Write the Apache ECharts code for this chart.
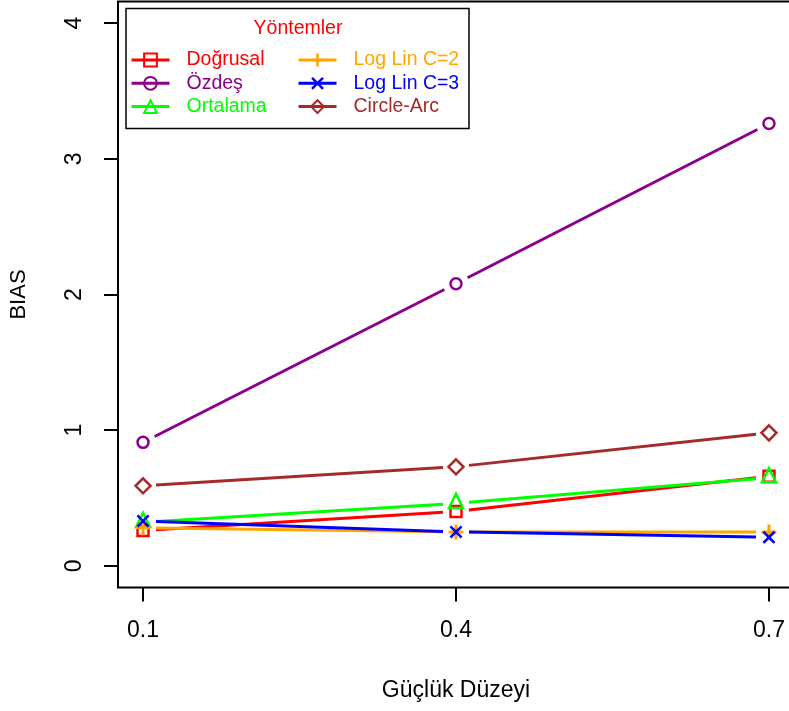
<!DOCTYPE html>
<html>
<head>
<meta charset="utf-8">
<script src="https://cdn.jsdelivr.net/npm/echarts@6/dist/echarts.min.js"></script>
<style>
  html, body { margin: 0; padding: 0; background: #fff; }
  #chart { width: 789px; height: 711px; }
</style>
</head>
<body>
<div id="chart"></div>
<script>
// Difficulty levels on the x axis
const levels = [0.1, 0.4, 0.7];
const xTickLabels = ['0.1', '0.4', '0.7'];
const yTicks = [0, 1, 2, 3, 4];

// BIAS values per method
const dogrusal = [0.26, 0.40, 0.66];
const ozdes = [0.91, 2.08, 3.26];
const ortalama = [0.32, 0.46, 0.65];
const logLinC2 = [0.28, 0.25, 0.25];
const logLinC3 = [0.33, 0.25, 0.21];
const circleArc = [0.59, 0.73, 0.98];

const methodNames = ['Doğrusal', 'Özdeş', 'Ortalama', 'Log Lin C=2', 'Log Lin C=3', 'Circle-Arc'];
const methodValues = [dogrusal, ozdes, ortalama, logLinC2, logLinC3, circleArc];
const methodColors = ['#FF0000', '#8B008B', '#00FF00', '#FFA500', '#0000FF', '#A52A2A'];

const PLUS = 'path://M4,0H6V4H10V6H6V10H4V6H0V4H4Z';
const CROSS = 'path://M1.4,0L5,3.6L8.6,0L10,1.4L6.4,5L10,8.6L8.6,10L5,6.4L1.4,10L0,8.6L3.6,5L0,1.4Z';
const symbolDefs = [
  { symbol: 'rect', size: 11, hollow: true, offset: [0, 0] },
  { symbol: 'circle', size: 11, hollow: true, offset: [0, 0] },
  { symbol: 'triangle', size: 14, hollow: true, offset: [0, -2.5] },
  { symbol: PLUS, size: 15, hollow: false, offset: [0, 0] },
  { symbol: CROSS, size: 13, hollow: false, offset: [0, 0] },
  { symbol: 'diamond', size: 15, hollow: true, offset: [0, 0] }
];

const FONT = 'Liberation Sans';
const GAP = 13; // gap between a segment end and its point (type "b" style)

const series = [];
methodNames.forEach((name, i) => {
  const vals = methodValues[i];
  const color = methodColors[i];
  const segs = [];
  for (let k = 0; k < levels.length - 1; k++) {
    segs.push([levels[k], vals[k], levels[k + 1], vals[k + 1]]);
  }
  // connecting segments, shortened at both ends
  series.push({
    type: 'custom',
    name: name + ' segments',
    dimensions: ['x0', 'y0', 'x1', 'y1'],
    encode: { x: [0, 2], y: [1, 3] },
    data: segs,
    silent: true,
    renderItem: function (params, api) {
      const p0 = api.coord([api.value(0), api.value(1)]);
      const p1 = api.coord([api.value(2), api.value(3)]);
      const dx = p1[0] - p0[0], dy = p1[1] - p0[1];
      const len = Math.sqrt(dx * dx + dy * dy);
      const ux = dx / len, uy = dy / len;
      return {
        type: 'line',
        shape: {
          x1: p0[0] + ux * GAP, y1: p0[1] + uy * GAP,
          x2: p1[0] - ux * GAP, y2: p1[1] - uy * GAP
        },
        style: { stroke: color, lineWidth: 3, lineCap: 'butt' }
      };
    }
  });
  // point markers
  const sd = symbolDefs[i];
  series.push({
    type: 'line',
    name: name,
    data: levels.map((x, k) => [x, vals[k]]),
    symbol: sd.symbol,
    symbolSize: sd.size,
    symbolOffset: sd.offset,
    showAllSymbol: true,
    lineStyle: { color: color, width: 3, opacity: 0 },
    itemStyle: sd.hollow
      ? { color: 'rgba(0,0,0,0)', borderColor: color, borderWidth: 2.5 }
      : { color: color, borderWidth: 0 },
    emphasis: { disabled: true }
  });
});

function legendData(from, to) {
  const out = [];
  for (let i = from; i < to; i++) {
    out.push({ name: methodNames[i], textStyle: { color: methodColors[i] } });
  }
  return out;
}

const legendCommon = {
  orient: 'vertical',
  top: 50,
  padding: 0,
  itemWidth: 38,
  itemHeight: 16,
  itemGap: 3.3,
  selectedMode: false,
  lineStyle: { width: 3, opacity: 1 },
  textStyle: { fontFamily: FONT, fontSize: 19.5, lineHeight: 20, padding: [0, 0, 0, 12] }
};

const option = {
  animation: false,
  backgroundColor: '#fff',
  grid: {
    left: 118, top: 1.5, width: 676, height: 586,
    outerBoundsMode: 'none',
    containLabel: false,
    show: true, borderColor: '#000', borderWidth: 2, backgroundColor: 'rgba(0,0,0,0)'
  },
  xAxis: {
    type: 'value',
    min: 0.076, max: 0.724,
    name: 'Güçlük Düzeyi',
    nameLocation: 'middle',
    nameGap: 92,
    nameTextStyle: { fontFamily: FONT, fontSize: 23, color: '#000' },
    axisLine: { show: false, onZero: false },
    splitLine: { show: false },
    axisTick: { show: true, length: 14, customValues: levels, lineStyle: { color: '#000', width: 2 } },
    axisLabel: {
      customValues: levels,
      formatter: v => xTickLabels[levels.indexOf(v)] ?? String(v),
      margin: 32, fontFamily: FONT, fontSize: 23, color: '#000'
    }
  },
  yAxis: {
    type: 'value',
    min: -0.16, max: 4.16,
    name: 'BIAS',
    nameLocation: 'middle',
    nameRotate: 90,
    nameGap: 88,
    nameTextStyle: { fontFamily: FONT, fontSize: 22, color: '#000' },
    axisLine: { show: false, onZero: false },
    splitLine: { show: false },
    axisTick: { show: true, length: 14, customValues: yTicks, lineStyle: { color: '#000', width: 2 } },
    axisLabel: {
      customValues: yTicks,
      rotate: 90,
      margin: 32, fontFamily: FONT, fontSize: 23, color: '#000'
    }
  },
  legend: [
    Object.assign({}, legendCommon, { left: 130, data: legendData(0, 3) }),
    Object.assign({}, legendCommon, { left: 297, data: legendData(3, 6) })
  ],
  graphic: [
    {
      type: 'rect', z: 3,
      shape: { x: 126, y: 8.5, width: 343, height: 120 },
      style: { fill: '#fff', stroke: '#000', lineWidth: 1.5 }
    },
    {
      type: 'text', z: 5,
      x: 298, y: 29,
      style: {
        text: 'Yöntemler', fill: '#FF0000', fontFamily: FONT, fontSize: 19.5,
        align: 'center', verticalAlign: 'middle'
      }
    }
  ],
  series: series
};

const chart = echarts.init(document.getElementById('chart'), null, { renderer: 'canvas' });
chart.setOption(option);
</script>
</body>
</html>
